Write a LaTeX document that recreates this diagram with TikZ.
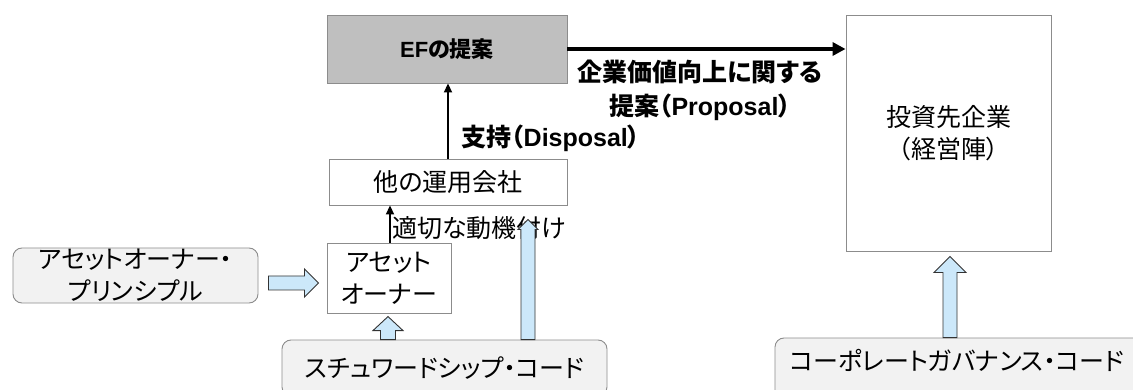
\documentclass[tikz,border=0pt]{standalone}
\usepackage{fontspec}
\setmainfont{Noto Sans CJK JP}[RawFeature=+palt]
\newfontfamily\lat{Liberation Sans}
\usetikzlibrary{arrows.meta,calc}
\definecolor{boxgray}{HTML}{BFBFBF}
\definecolor{edgegray}{HTML}{8C8C8C}
\definecolor{softgray}{HTML}{F2F2F2}
\definecolor{arrowblue}{HTML}{CCE8FA}
\tikzset{
  plainbox/.style={draw=edgegray, line width=0.9pt, fill=white, inner sep=0pt, align=center,
    font=\fontsize{25}{32}\selectfont},
  efbox/.style={plainbox, fill=boxgray, font=\fontsize{22}{26}\selectfont\bfseries},
  roundbox/.style={plainbox, fill=softgray, rounded corners=9pt},
  boldlbl/.style={inner sep=0pt, align=center, font=\fontsize{25}{34}\selectfont\bfseries},
  normlbl/.style={inner sep=0pt, align=center, font=\fontsize{25}{31}\selectfont},
  thickarrow/.style={line width=4pt, -{Triangle[length=13pt,width=13pt]}},
  thinarrow/.style={line width=1.8pt, -{Triangle[length=9pt,width=8pt]}},
  blockarrow/.style={draw=black!80, line width=0.9pt, fill=arrowblue, line join=miter}
}
\begin{document}
\begin{tikzpicture}[x=1pt,y=-1pt]
\useasboundingbox (0,0) rectangle (1133,390);
\clip (0,0) rectangle (1133,390);

% boxes
\node[efbox, minimum width=240pt, minimum height=68pt] (ef) at (447,49) {\raisebox{-3pt}{{\lat EF}の提案}};
\node[plainbox, minimum width=205pt, minimum height=236pt] (inv) at (948.5,133) {投資先企業\\（経営陣）};
\node[plainbox, minimum width=238pt, minimum height=46pt] (other) at (448,182) {他の運用会社};
\node[plainbox, minimum width=124pt, minimum height=70pt] (ao) at (389,278) {アセット\\オーナー};
\node[roundbox, minimum width=245pt, minimum height=55pt] (aop) at (135.5,275.5) {アセットオーナー・\\プリンシプル};
\node[roundbox, minimum width=325pt, minimum height=56pt] (stew) at (444.5,368) {スチュワードシップ・コード};
\node[roundbox, minimum width=380pt, minimum height=80pt] (cg) at (965,378) {};
\node[normlbl] (cgtext) at (957,360) {コーポレートガバナンス・コード};

% connectors
\draw[thickarrow] (ef.east) -- (ef.east -| inv.west);
\draw[thinarrow] (other.north) -- (other.north |- ef.south);
\draw[thinarrow] ([xshift=1pt]ao.north) -- ([xshift=1pt]ao.north |- other.south);

% labels
\node[boldlbl] (prop) at (700,90) {企業価値向上に関する\\提案（{\lat Proposal}）};
\node[boldlbl, anchor=west] (sup) at (461,138) {支持（{\lat Disposal}）};
\node[normlbl, anchor=west] (mot) at (392,228) {適切な動機付け};

% block arrows
% horizontal: principle -> asset owner
\coordinate (hb) at (aop.east |- 0,283);
\draw[blockarrow] ($(hb)+(10,-7)$) -- ++(36,0) -- ++(0,-7) -- ++(14,14) -- ++(-14,14) -- ++(0,-7) -- ++(-36,0) -- cycle;
% small up: stewardship -> asset owner
\coordinate (sb) at (stew.north -| 388,0);
\draw[blockarrow] ($(sb)+(-7.5,0)$) -- ++(0,-9) -- ++(-7.5,0) -- ++(15,-14) -- ++(15,14) -- ++(-7.5,0) -- ++(0,9) -- cycle;
% tall up: stewardship -> other asset managers
\coordinate (tb) at (stew.north -| 528,0);
\draw[blockarrow] ($(tb)+(-7,0)$) -- ++(0,-110) -- ++(-3,0) -- ++(10,-10) -- ++(10,10) -- ++(-3,0) -- ++(0,110) -- cycle;
% governance code -> investee company
\coordinate (cb) at (cg.north -| 950,0);
\draw[blockarrow] ($(cb)+(-7,0)$) -- ++(0,-65) -- ++(-9,0) -- ++(16,-16) -- ++(16,16) -- ++(-9,0) -- ++(0,65) -- cycle;
\end{tikzpicture}
\end{document}
